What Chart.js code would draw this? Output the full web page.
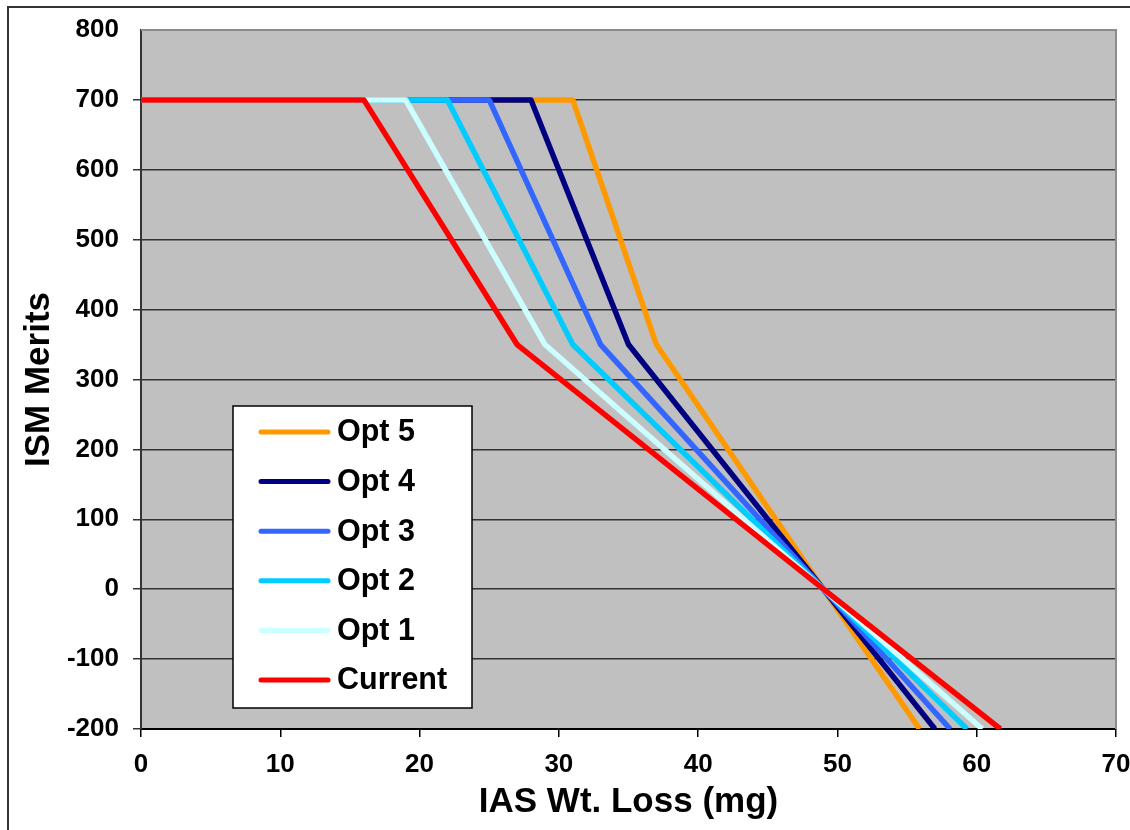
<!DOCTYPE html>
<html lang="en">
  <head>
    <meta charset="UTF-8" />
    <title>ISM Merits vs IAS Wt. Loss</title>
    <script src="https://cdn.jsdelivr.net/npm/chart.js"></script>
    <style>
      html, body {
        margin: 0;
        padding: 0;
        background: #ffffff;
      }
      #wrap {
        position: relative;
        width: 1130px;
        height: 830px;
      }
    </style>
  </head>
  <body>
    <div id="wrap">
      <canvas id="meritChart" width="1130" height="830"></canvas>
    </div>

    <script>
      // merit levels shared by every option (y values of the breakpoints)
      const meritY = [700, 700, 350, 0, -200];

      // wear loss (mg) at each breakpoint, one list per option
      const currentX = [0, 16, 27, 49, 61.7];
      const opt1X = [0, 19, 29, 49, 60.4];
      const opt2X = [0, 22, 31, 49, 59.3];
      const opt3X = [0, 25, 33, 49, 58.1];
      const opt4X = [0, 28, 35, 49, 57];
      const opt5X = [0, 31, 37, 49, 55.9];

      const seriesNames = ['Current', 'Opt 1', 'Opt 2', 'Opt 3', 'Opt 4', 'Opt 5'];
      const seriesX = [currentX, opt1X, opt2X, opt3X, opt4X, opt5X];
      const seriesColors = ['#ff0000', '#ccffff', '#00ccff', '#3366ff', '#000080', '#ff9900'];

      const xTicks = [0, 10, 20, 30, 40, 50, 60, 70];
      const yTicks = [-200, -100, 0, 100, 200, 300, 400, 500, 600, 700, 800];

      const FONT = '"Liberation Sans", Arial, sans-serif';

      function toPoints(xs) {
        return xs.map((x, i) => ({ x: x, y: meritY[i] }));
      }

      // first dataset is painted last, so Current sits on top
      const datasets = seriesNames.map((name, i) => ({
        label: name,
        data: toPoints(seriesX[i]),
        borderColor: seriesColors[i],
        backgroundColor: seriesColors[i],
        borderWidth: 5.5,
        borderJoinStyle: 'round',
        pointRadius: 0,
        tension: 0,
        fill: false
      }));

      // page frame, plot background and plot edges
      const framePlugin = {
        id: 'frame',
        beforeDraw(chart) {
          const c = chart.ctx;
          const a = chart.chartArea;
          c.save();
          c.fillStyle = '#ffffff';
          c.fillRect(0, 0, chart.width, chart.height);
          c.strokeStyle = '#333333';
          c.lineWidth = 2;
          c.beginPath();
          c.moveTo(8, chart.height);
          c.lineTo(8, 7);
          c.lineTo(chart.width, 7);
          c.stroke();
          c.fillStyle = '#c0c0c0';
          c.fillRect(a.left, a.top, a.right - a.left, a.bottom - a.top);
          c.restore();
        },
        afterDatasetsDraw(chart) {
          const c = chart.ctx;
          const a = chart.chartArea;
          c.save();
          c.strokeStyle = '#8c8c8c';
          c.lineWidth = 2;
          c.beginPath();
          c.moveTo(a.left, a.top);
          c.lineTo(a.right, a.top);
          c.lineTo(a.right, a.bottom);
          c.stroke();
          c.restore();
        }
      };

      // boxed legend inside the plot, Opt 5 at the top
      const legendBox = {
        id: 'legendBox',
        afterDraw(chart) {
          const c = chart.ctx;
          const box = { x: 233, y: 406, w: 239, h: 302 };
          c.save();
          c.fillStyle = '#ffffff';
          c.fillRect(box.x, box.y, box.w, box.h);
          c.strokeStyle = '#000000';
          c.lineWidth = 1.5;
          c.strokeRect(box.x, box.y, box.w, box.h);
          c.font = 'bold 30.5px ' + FONT;
          c.textBaseline = 'middle';
          c.textAlign = 'left';
          c.lineCap = 'round';
          const order = [5, 4, 3, 2, 1, 0];
          order.forEach((idx, row) => {
            const y = 432 + row * 49.6;
            c.strokeStyle = seriesColors[idx];
            c.lineWidth = 5;
            c.beginPath();
            c.moveTo(261, y);
            c.lineTo(328, y);
            c.stroke();
            c.fillStyle = '#000000';
            c.fillText(seriesNames[idx], 337, y + 1);
          });
          c.restore();
        }
      };

      const ctx = document.getElementById('meritChart').getContext('2d');

      new Chart(ctx, {
        type: 'line',
        data: { datasets: datasets },
        plugins: [framePlugin, legendBox],
        options: {
          responsive: false,
          animation: false,
          layout: { padding: { top: 30, right: 14, left: 0, bottom: 0 } },
          plugins: {
            legend: { display: false },
            tooltip: { enabled: false }
          },
          scales: {
            x: {
              type: 'linear',
              min: 0,
              max: 70,
              afterFit(scale) {
                scale.height = 101;
                scale.paddingLeft = 0;
                scale.paddingRight = 0;
              },
              afterBuildTicks(scale) { scale.ticks = xTicks.map(v => ({ value: v })); },
              ticks: {
                color: '#000000',
                font: { family: FONT, size: 26, weight: 'bold' },
                padding: 12,
                maxRotation: 0
              },
              grid: {
                drawOnChartArea: false,
                drawTicks: true,
                tickLength: 8,
                color: '#000000',
                lineWidth: 1.5
              },
              border: { display: true, color: '#000000', width: 2 },
              title: {
                display: true,
                text: 'IAS Wt. Loss (mg)',
                color: '#000000',
                font: { family: FONT, size: 35, weight: 'bold' },
                padding: { top: 0, bottom: 7 }
              }
            },
            y: {
              type: 'linear',
              min: -200,
              max: 800,
              afterFit(scale) {
                scale.width = 141;
                scale.paddingTop = 0;
                scale.paddingBottom = 0;
              },
              afterBuildTicks(scale) { scale.ticks = yTicks.map(v => ({ value: v })); },
              ticks: {
                color: '#000000',
                font: { family: FONT, size: 26, weight: 'bold' },
                padding: 14
              },
              grid: {
                drawTicks: true,
                tickLength: 8,
                color: (c) => (c.tick && c.tick.value === 800 ? 'rgba(0,0,0,0)' : '#333333'),
                lineWidth: 1.5
              },
              border: { display: true, color: '#333333', width: 2 },
              title: {
                display: true,
                text: 'ISM Merits',
                color: '#000000',
                font: { family: FONT, size: 35, weight: 'bold' },
                padding: { top: 18, bottom: 0 }
              }
            }
          }
        }
      });
    </script>
  </body>
</html>
